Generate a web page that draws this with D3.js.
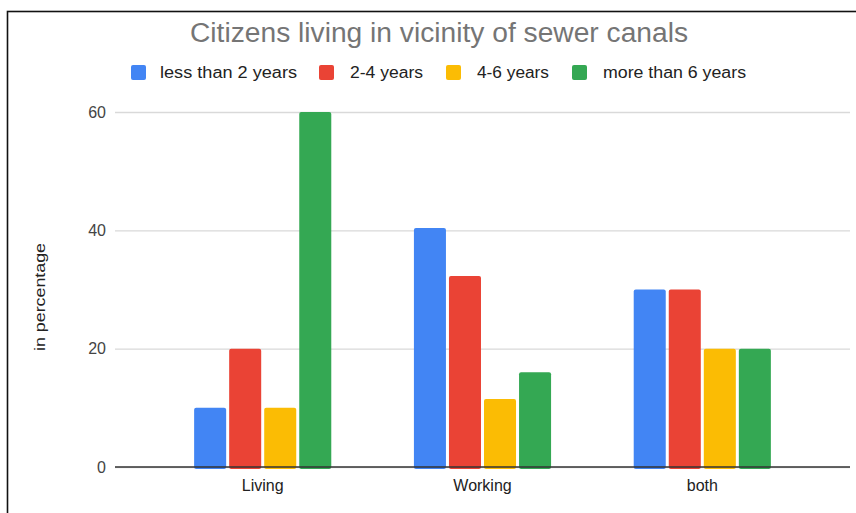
<!DOCTYPE html>
<html>
<head>
<meta charset="utf-8">
<script src="https://cdn.jsdelivr.net/npm/d3@7"></script>
<style>
  html, body { margin: 0; padding: 0; background: #fff; }
  svg { display: block; font-family: "Liberation Sans", Arial, sans-serif; }
</style>
</head>
<body>
<svg id="chart" width="856" height="513"></svg>
<script>
// Chart data
const categories = ["Living", "Working", "both"];
const seriesNames = ["less than 2 years", "2-4 years", "4-6 years", "more than 6 years"];
const lessThan2 = [10, 40.4, 30];
const twoToFour = [20, 32.3, 30];
const fourToSix = [10, 11.5, 20];
const moreThan6 = [60, 16, 20];
const yTicks = [0, 20, 40, 60];
const colors = ["#4285F4", "#EA4335", "#FBBC04", "#34A853"];

const seriesValues = [lessThan2, twoToFour, fourToSix, moreThan6];
const FONT = '"Liberation Sans", Arial, sans-serif';

const svg = d3.select("#chart");
const W = 856, H = 513;

// Frame
svg.append("rect")
  .attr("x", 7.5).attr("y", 11.5)
  .attr("width", W + 20).attr("height", H + 20)
  .attr("fill", "#fff")
  .attr("stroke", "#111").attr("stroke-width", 1.6);

// Plot area
const plot = { left: 115, right: 850, top: 112, bottom: 467 };

const x0 = d3.scaleBand()
  .domain(categories)
  .range([plot.left, plot.right])
  .paddingInner(0)
  .paddingOuter(0.172);

const groupWidth = x0.bandwidth() * 0.624;
const x1 = d3.scaleBand()
  .domain(seriesNames)
  .range([0, groupWidth])
  .paddingInner(0.086)
  .paddingOuter(0);

const y = d3.scaleLinear().domain([0, 60]).range([plot.bottom, plot.top]);

// Grid lines and value labels
const yAxis = d3.axisLeft(y).tickValues(yTicks).tickSize(-(plot.right - plot.left)).tickPadding(9);
const gy = svg.append("g")
  .attr("transform", `translate(${plot.left},0)`)
  .call(yAxis);
gy.select(".domain").remove();
gy.selectAll(".tick line").attr("stroke", "#d9d9d9").attr("stroke-width", 1.3);
gy.selectAll(".tick text")
  .attr("fill", "#444").attr("font-size", 16).attr("font-family", FONT);

// Bars
const rows = categories.map((c, i) => ({
  cat: c,
  vals: seriesNames.map((s, j) => ({ key: s, value: seriesValues[j][i], color: colors[j] }))
}));

const groups = svg.append("g").selectAll("g")
  .data(rows).join("g")
  .attr("transform", d => `translate(${x0(d.cat) + (x0.bandwidth() - groupWidth) / 2},0)`);

groups.selectAll("rect")
  .data(d => d.vals).join("rect")
  .attr("x", d => x1(d.key))
  .attr("y", d => y(d.value))
  .attr("width", x1.bandwidth())
  .attr("height", d => y(0) - y(d.value) + 2)
  .attr("rx", 2)
  .attr("fill", d => d.color);

// Baseline
svg.append("line")
  .attr("x1", plot.left).attr("x2", plot.right)
  .attr("y1", y(0)).attr("y2", y(0))
  .attr("stroke", "#333").attr("stroke-width", 1.5);

// Category labels
const xAxis = d3.axisBottom(x0).tickSize(0).tickPadding(13);
const gx = svg.append("g")
  .attr("transform", `translate(0,${plot.bottom})`)
  .call(xAxis);
gx.select(".domain").remove();
gx.selectAll(".tick text")
  .attr("fill", "#222").attr("font-size", 16).attr("font-family", FONT);

// Y axis title
svg.append("text")
  .attr("transform", "translate(45,297) rotate(-90)")
  .attr("text-anchor", "middle")
  .attr("fill", "#222")
  .attr("font-size", 15)
  .attr("textLength", 108)
  .attr("lengthAdjust", "spacingAndGlyphs")
  .text("in percentage");

// Title
svg.append("text")
  .attr("x", 439).attr("y", 42)
  .attr("text-anchor", "middle")
  .attr("fill", "#757575")
  .attr("font-size", 27)
  .attr("textLength", 498)
  .attr("lengthAdjust", "spacingAndGlyphs")
  .text("Citizens living in vicinity of sewer canals");

// Legend
const legendItems = [
  { name: seriesNames[0], sx: 131, tx: 160, len: 137 },
  { name: seriesNames[1], sx: 319, tx: 350, len: 73 },
  { name: seriesNames[2], sx: 446, tx: 477, len: 72 },
  { name: seriesNames[3], sx: 572, tx: 603, len: 143 }
];
const legend = svg.append("g");
legend.selectAll("rect")
  .data(legendItems).join("rect")
  .attr("x", d => d.sx).attr("y", 65)
  .attr("width", 15).attr("height", 15)
  .attr("rx", 2)
  .attr("fill", (d, i) => colors[i]);
legend.selectAll("text")
  .data(legendItems).join("text")
  .attr("x", d => d.tx).attr("y", 78)
  .attr("fill", "#222")
  .attr("font-size", 16)
  .attr("textLength", d => d.len)
  .attr("lengthAdjust", "spacingAndGlyphs")
  .text(d => d.name);
</script>
</body>
</html>
